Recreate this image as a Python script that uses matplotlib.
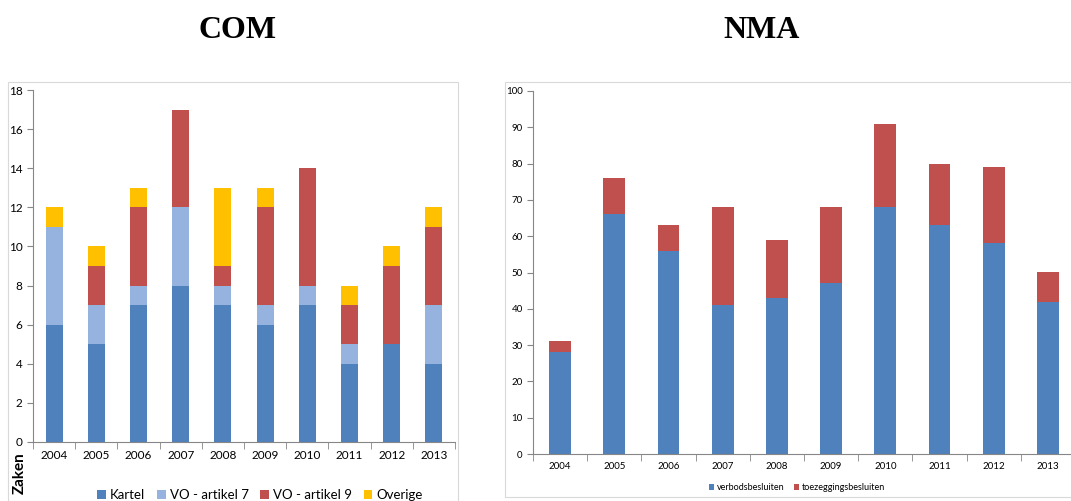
import numpy as np
from matplotlib import pyplot as plt
from matplotlib.patches import Rectangle

# Data
years = ['2004', '2005', '2006', '2007', '2008', '2009', '2010', '2011', '2012', '2013']

com_kartel = [6, 5, 7, 8, 7, 6, 7, 4, 5, 4]
com_vo7 = [5, 2, 1, 4, 1, 1, 1, 1, 0, 3]
com_vo9 = [0, 2, 4, 5, 1, 5, 6, 2, 4, 4]
com_overige = [1, 1, 1, 0, 4, 1, 0, 1, 1, 1]
com_labels = ['Kartel', 'VO - artikel 7', 'VO - artikel 9', 'Overige']

nma_verbod = [28, 66, 56, 41, 43, 47, 68, 63, 58, 42]
nma_toezegging = [3, 10, 7, 27, 16, 21, 23, 17, 21, 8]
nma_labels = ['verbodsbesluiten', 'toezeggingsbesluiten']

com_colors = ['#4F81BD', '#95B3DE', '#C0504D', '#FFC000']
nma_colors = ['#4F81BD', '#C0504D']

W, H = 1071, 501
fig = plt.figure(figsize=(W / 100, H / 100), dpi=100)
plt.rcParams['font.family'] = ['Lato', 'DejaVu Sans']

# chart area borders
fig.add_artist(Rectangle((8 / W, 0), 450 / W, (H - 82) / H, transform=fig.transFigure,
                         fill=False, edgecolor='#D9D9D9', lw=0.8))
fig.add_artist(Rectangle((505 / W, 4 / H), 570 / W, (H - 86) / H, transform=fig.transFigure,
                         fill=False, edgecolor='#D9D9D9', lw=0.8))


def style_axes(ax, fs):
    for s in ['top', 'right']:
        ax.spines[s].set_visible(False)
    for s in ['left', 'bottom']:
        ax.spines[s].set_color('#868686')
        ax.spines[s].set_linewidth(0.8)
    ax.set_xlim(-0.5, 9.5)
    ax.set_xticks(range(10))
    ax.set_xticklabels(years, fontsize=fs)
    ax.set_xticks(np.arange(-0.5, 10, 1), minor=True)
    ax.tick_params(axis='x', which='major', length=0, pad=6)
    ax.tick_params(axis='x', which='minor', length=5, color='#868686')
    ax.tick_params(axis='y', length=4, color='#868686', labelsize=fs)


x = np.arange(len(years))

# COM
ax1 = fig.add_axes([33 / W, (H - 442) / H, 422 / W, 352 / H])
bottom = np.zeros(len(years))
handles1 = []
for vals, c, lab in zip([com_kartel, com_vo7, com_vo9, com_overige], com_colors, com_labels):
    b = ax1.bar(x, vals, 0.4, bottom=bottom, color=c, label=lab)
    handles1.append(b)
    bottom += np.array(vals)
ax1.set_ylim(0, 18)
ax1.set_yticks(range(0, 19, 2))
style_axes(ax1, 8.5)

# NMA
ax2 = fig.add_axes([533 / W, (H - 454) / H, 542 / W, 363 / H])
ax2.bar(x, nma_verbod, 0.4, color=nma_colors[0], label=nma_labels[0])
ax2.bar(x, nma_toezegging, 0.4, bottom=nma_verbod, color=nma_colors[1], label=nma_labels[1])
ax2.set_ylim(0, 100)
ax2.set_yticks(range(0, 101, 10))
style_axes(ax2, 7)

# titles
fig.text(238 / W, (H - 30) / H, 'COM', family='Liberation Serif', fontweight='bold',
         fontsize=23, ha='center', va='center')
fig.text(762 / W, (H - 30) / H, 'NMA', family='Liberation Serif', fontweight='bold',
         fontsize=23, ha='center', va='center')

fig.text(20 / W, (H - 473) / H, 'Zaken', rotation=90, fontweight='bold', fontsize=11,
         ha='center', va='center')

fig.legend(handles1, com_labels, loc='center', bbox_to_anchor=(260 / W, (H - 495) / H),
           ncol=4, frameon=False, fontsize=9.5, handlelength=0.65, handleheight=0.65,
           handletextpad=0.3, columnspacing=0.9)
fig.legend(*ax2.get_legend_handles_labels(), loc='center', bbox_to_anchor=(797 / W, (H - 488) / H),
           ncol=2, frameon=False, fontsize=6.5, handlelength=0.6, handleheight=0.6,
           handletextpad=0.3, columnspacing=1.0)

plt.savefig('out.png', dpi=100)
